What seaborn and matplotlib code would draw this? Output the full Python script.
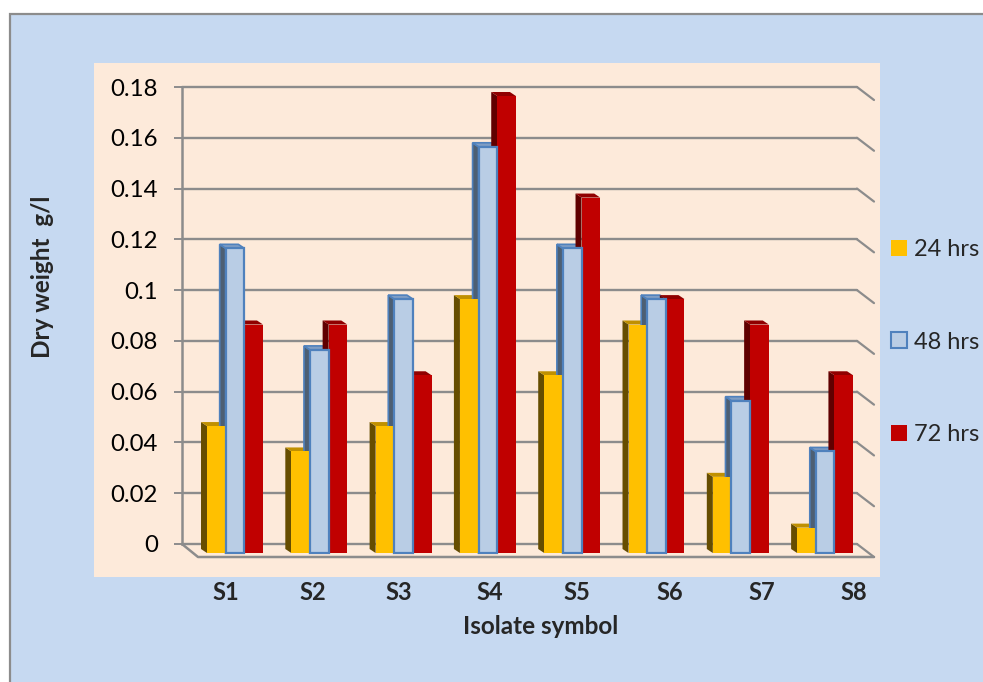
# -*- coding: utf-8 -*-
"""Dry weight per isolate: fake-3D clustered bars drawn over a seaborn barplot."""
import pandas as pd
import matplotlib
matplotlib.use("Agg")
import matplotlib.pyplot as plt
from matplotlib.patches import Rectangle, Polygon
import seaborn as sns

# --- data ---
isolates = ["S1", "S2", "S3", "S4", "S5", "S6", "S7", "S8"]
hrs_24 = [0.05, 0.04, 0.05, 0.10, 0.07, 0.09, 0.03, 0.01]
hrs_48 = [0.12, 0.08, 0.10, 0.16, 0.12, 0.10, 0.06, 0.04]
hrs_72 = [0.09, 0.09, 0.07, 0.18, 0.14, 0.10, 0.09, 0.07]
y_ticks = [0, 0.02, 0.04, 0.06, 0.08, 0.1, 0.12, 0.14, 0.16, 0.18]
y_tick_labels = ["0", "0.02", "0.04", "0.06", "0.08", "0.1", "0.12", "0.14", "0.16", "0.18"]
series_names = ["24 hrs", "48 hrs", "72 hrs"]

df = pd.DataFrame({
    "isolate": isolates * 3,
    "dry": hrs_24 + hrs_48 + hrs_72,
    "time": [n for n in series_names for _ in isolates],
})

# --- layout, in pixels of the 983x682 picture ---
W, H = 983, 682
WALL_L, WALL_R, WALL_B, WALL_T = 182, 857, 544, 87
FRONT_L, FRONT_R, FRONT_B, FRONT_T = 182, 873, 553, 96
GROUP0, GROUP_STEP = 235, 84.3
DEPTH_X, DEPTH_Y = 6, 4
PX_PER_UNIT = (FRONT_B - FRONT_T) / 0.18
LABEL_X = [226, 313, 399, 490, 577, 670, 762, 854]

GRID = "#8c8c8c"
FRONT = ["#ffc000", "#b9cde5", "#c00000"]
SIDE = ["#664d00", "#4d5f73", "#600000"]
TOP = ["#c09000", "#7f9dc4", "#900000"]
EDGE_48 = "#4f81bd"

sns.set_style("white")
plt.rcParams["font.family"] = ["Lato", "DejaVu Sans"]


def rect_of(l, r, b, t):
    return [l / W, 1 - b / H, (r - l) / W, (b - t) / H]


fig = plt.figure(figsize=(W / 100, H / 100), dpi=100, facecolor="white")

# --- background layer in pixel coordinates ---
bg = fig.add_axes([0, 0, 1, 1])
bg.set_xlim(0, W)
bg.set_ylim(H, 0)
bg.axis("off")
bg.add_patch(Rectangle((10, 14), W, H, facecolor="#c6d9f1", edgecolor="#8c8c8c", lw=1.6))
bg.add_patch(Rectangle((94, 63), 786, 514, facecolor="#fdeada", edgecolor="none"))

# diagonals from the back wall to the front edge
for v in y_ticks:
    y = WALL_B - v * (WALL_B - WALL_T) / 0.18
    bg.plot([WALL_R, WALL_R + 17], [y, y + 13], color=GRID, lw=1.6)
bg.plot([WALL_L, WALL_L + 16, WALL_R + 17], [WALL_B, 557, 557], color=GRID, lw=1.8)

# --- back wall ---
wall = fig.add_axes(rect_of(WALL_L, WALL_R, WALL_B, WALL_T))
wall.patch.set_alpha(0)
wall.set_xlim(0, 1)
wall.set_ylim(0, 0.18)
wall.set_xticks([])
wall.set_yticks(y_ticks)
wall.set_yticklabels(y_tick_labels)
wall.tick_params(axis="y", length=5.5, width=1.4, color=GRID, labelsize=17.3,
                 labelcolor="black", pad=12, left=True)
wall.grid(axis="y", color=GRID, lw=1.7, clip_on=False)
for gl in wall.get_ygridlines():
    gl.set_clip_on(False)
for side in ["top", "right", "bottom"]:
    wall.spines[side].set_visible(False)
wall.spines["left"].set_color(GRID)
wall.spines["left"].set_linewidth(1.8)

# --- bars ---
ax = fig.add_axes(rect_of(FRONT_L, FRONT_R, FRONT_B, FRONT_T))
sns.barplot(data=df, x="isolate", y="dry", hue="time", hue_order=series_names,
            palette=FRONT, saturation=1, width=0.664, gap=0, errorbar=None,
            edgecolor="none", ax=ax)
ax.set_xlim((FRONT_L - GROUP0) / GROUP_STEP, (FRONT_R - GROUP0) / GROUP_STEP)
ax.set_ylim(0, 0.18)
handles, labels = ax.get_legend_handles_labels()
ax.get_legend().remove()
ax.axis("off")

dx = DEPTH_X / GROUP_STEP
dy = DEPTH_Y / PX_PER_UNIT
for i, bars in enumerate(ax.containers):
    edge = EDGE_48 if i == 1 else "none"
    for p in bars:
        x0, x1, h = p.get_x(), p.get_x() + p.get_width(), p.get_height()
        ax.add_patch(Polygon([(x0, 0), (x0 - dx, dy), (x0 - dx, h + dy), (x0, h)],
                             facecolor=SIDE[i], edgecolor=edge, lw=1.2,
                             zorder=1.5, clip_on=False))
        ax.add_patch(Polygon([(x0, h), (x0 - dx, h + dy), (x1 - dx, h + dy), (x1, h)],
                             facecolor=TOP[i], edgecolor=edge, lw=1.2,
                             zorder=1.5, clip_on=False))
        p.set_zorder(3)
        if i == 1:
            p.set_edgecolor(EDGE_48)
            p.set_linewidth(1.6)
            p.set_zorder(3.5)
        p.set_clip_on(False)

# --- texts ---
for name, x in zip(isolates, LABEL_X):
    bg.text(x, 593, name, ha="center", va="center", fontsize=17, fontweight="bold")
bg.text(541, 626, "Isolate symbol", ha="center", va="center", fontsize=17.5, fontweight="bold")
bg.text(43, 277, "Dry weight  g/l", rotation=90, ha="center", va="center",
        fontsize=17.5, fontweight="bold")

# --- legend ---
for h in handles:
    h.set_edgecolor("none")
handles[1].set_edgecolor(EDGE_48)
handles[1].set_linewidth(1.5)
fig.legend(handles, labels, loc="upper left", bbox_to_anchor=(891 / W, 1 - 239 / H),
           frameon=False, fontsize=17, handlelength=0.68, handleheight=0.68,
           handletextpad=0.3, labelspacing=3.03, borderpad=0, borderaxespad=0)

fig.savefig("out.png", dpi=100)
